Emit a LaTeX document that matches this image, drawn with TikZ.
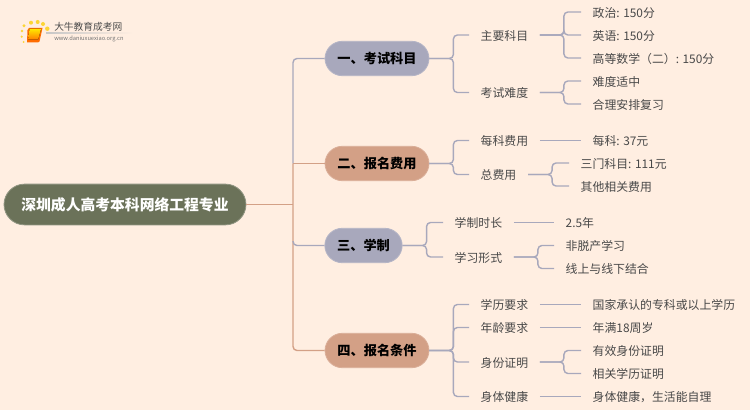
\documentclass[tikz,border=0pt]{standalone}
\usepackage{fontspec}
\setmainfont{Noto Sans CJK SC}
\usetikzlibrary{shadings}
\definecolor{bgc}{HTML}{FFEEE1}
\definecolor{rootc}{HTML}{6B7259}
\definecolor{bluec}{HTML}{A8A8BC}
\definecolor{orgc}{HTML}{D3A086}
\definecolor{txtc}{HTML}{484848}
\tikzset{
  x=0.75pt,y=-0.75pt,
  rootbox/.style={draw=rootc!75!white,line width=0.6pt,fill=rootc,rounded corners=15.4pt,minimum height=30.6pt,minimum width=181.5pt,inner sep=0pt,text=white,font=\fontsize{11.1pt}{13pt}\selectfont\bfseries},
  branchbox/.style={draw=#1!85!white,line width=0.6pt,fill=#1,rounded corners=13pt,minimum height=25.8pt,inner sep=0pt,text=black,font=\fontsize{9.9pt}{12pt}\selectfont\bfseries},
  leaf/.style={anchor=west,inner xsep=8.6pt,inner ysep=0pt,text=txtc,text height=9pt,text depth=1pt,font=\fontsize{8.9pt}{11pt}\selectfont},
  link/.style={draw=bluec,line width=1.05pt,rounded corners=3pt},
  olink/.style={draw=orgc,line width=1.05pt,rounded corners=3pt},
}
\begin{document}
\begin{tikzpicture}
\useasboundingbox (0,0) rectangle (750,410);
\fill[bgc] (0,0) rectangle (750,410);
% logo
\foreach \px/\py/\r in {24/25.7/1.6,31/22.7/2,37.7/22/2,43/24/2,47.3/28.7/2.2,22/31/1.3,21.7/36.7/1.2,23.7/42/1}
  \fill[yellow!65!orange!80!white] (\px,\py) circle[radius=\r];
\fill[orange!85!red] (27.5,30) -- (29,28) -- (42.5,28) -- (39.5,41.5) -- (38,42.5) -- (27,42.5) -- cycle;
\fill[top color=yellow!80!orange,bottom color=orange] (29.5,29) -- (41,29) -- (38.2,39.5) -- (28,39.5) -- cycle;
\node[anchor=west,inner sep=0pt,text=black!70,font=\fontsize{7.3pt}{9pt}\selectfont] (logot) at (54,27) {大牛教育成考网};
\node[anchor=west,inner sep=0pt,text=black!55,font=\fontsize{4.3pt}{6pt}\selectfont] (logou) at (54,38.5) {www.daniuxuexiao.org.cn};
\fill[left color=black!22,right color=bgc] (46,33) rectangle (133,33.8);

% nodes
\node[rootbox] (root) at (125,204.5) {深圳成人高考本科网络工程专业};
\node[branchbox=bluec,minimum width=78pt] (b1) at (377,58.5) {一、考试科目};
\node[branchbox=orgc,minimum width=78pt] (b2) at (377,163.5) {二、报名费用};
\node[branchbox=bluec,minimum width=58pt] (b3) at (363.5,245.5) {三、学制};
\node[branchbox=orgc,minimum width=78pt] (b4) at (377,350.5) {四、报名条件};
\coordinate (trunk) at (293,204.5);
\coordinate (split) at (293,163.5);
\coordinate (b3start) at (293,241);

\node[leaf] (a1) at (469,35) {主要科目};
\node[leaf] (a2) at (469,92.5) {考试难度};
\node[leaf] (a11) at (581,12) {政治: 150分};
\node[leaf] (a12) at (581,35) {英语: 150分};
\node[leaf] (a13) at (581,58) {高等数学（二）: 150分};
\node[leaf] (a21) at (581,81) {难度适中};
\node[leaf] (a22) at (581,104) {合理安排复习};

\node[leaf] (c1) at (469,140.5) {每科费用};
\node[leaf] (c2) at (469,174.5) {总费用};
\node[leaf] (c11) at (581,140.5) {每科: 37元};
\node[leaf] (c21) at (569,163) {三门科目: 111元};
\node[leaf] (c22) at (569,186) {其他相关费用};

\node[leaf] (d1) at (443,222.5) {学制时长};
\node[leaf] (d2) at (443,257) {学习形式};
\node[leaf] (d11) at (554,222.5) {2.5年};
\node[leaf] (d21) at (554,245.5) {非脱产学习};
\node[leaf] (d22) at (554,268.5) {线上与线下结合};

\node[leaf] (e1) at (469,304.5) {学历要求};
\node[leaf] (e2) at (469,327.5) {年龄要求};
\node[leaf] (e3) at (469,362) {身份证明};
\node[leaf] (e4) at (469,396.5) {身体健康};
\node[leaf] (e11) at (581,304.5) {国家承认的专科或以上学历};
\node[leaf] (e21) at (581,327.5) {年满18周岁};
\node[leaf] (e31) at (581,350.5) {有效身份证明};
\node[leaf] (e32) at (581,373.5) {相关学历证明};
\node[leaf] (e41) at (581,396.5) {身体健康，生活能自理};

% trunk
\draw[olink] (root.east) -- (trunk);
\draw[link] (split) |- (b1.west);
\draw[olink] (split) |- (b4.west);
\draw[olink] (split) -- (b2.west);
\draw[link] (b3start) |- (b3.west);

% level 2
\foreach \f/\t in {b1/a1,b1/a2,b2/c1,b2/c2,b3/d1,b3/d2,b4/e1,b4/e2,b4/e3,b4/e4}
  \draw[link] (\f.east) -- ++(24,0) |- (\t.west);
% level 3
\foreach \f/\t in {a1/a11,a1/a12,a1/a13,a2/a21,a2/a22,c2/c21,c2/c22,d2/d21,d2/d22,e3/e31,e3/e32}
  \draw[link] (\f.east) -- ++(24,0) |- (\t.west);
\foreach \f/\t in {c1/c11,d1/d11,e1/e11,e2/e21,e4/e41}
  \draw[link] (\f.east) -- (\t.west);
\end{tikzpicture}
\end{document}
